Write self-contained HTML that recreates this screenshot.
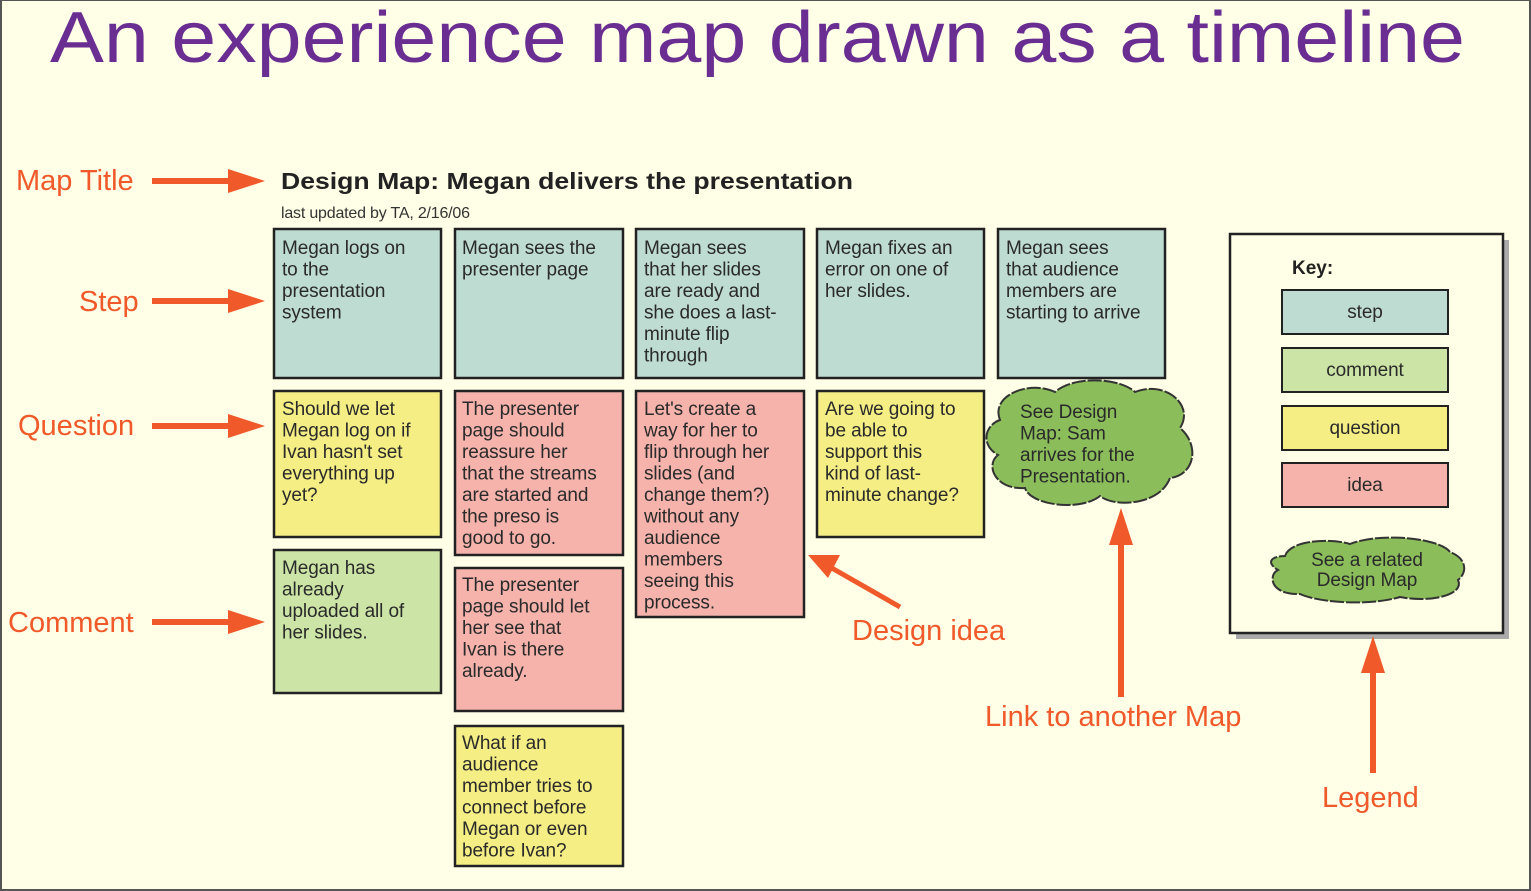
<!DOCTYPE html>
<html><head><style>
html,body{margin:0;padding:0;background:#fffee6}
svg{display:block}
text{font-family:"Liberation Sans",sans-serif}
.b{font-size:19px;fill:#2a2a2a;letter-spacing:-0.1px}
.o{fill:#f0592a;font-size:29px}
</style></head><body>
<svg width="1531" height="891" viewBox="0 0 1531 891">
<rect x="0" y="0" width="1531" height="891" fill="#fffee6"/>
<rect x="1" y="0" width="1529" height="890" fill="none" stroke="#555" stroke-width="2"/>
<text x="50" y="62" font-size="72" fill="#6a2d91" textLength="1415" lengthAdjust="spacingAndGlyphs">An experience map drawn as a timeline</text>

<g fill="#f0592a">
<g id="la"><rect x="152" y="178" width="80" height="6"/><polygon points="228,169 265,181 228,193"/></g>
<use href="#la" y="120"/>
<use href="#la" y="245"/>
<use href="#la" y="441"/>
</g>
<text class="o" x="16" y="190">Map Title</text>
<text class="o" x="79" y="311">Step</text>
<text class="o" x="18" y="435">Question</text>
<text class="o" x="8" y="632">Comment</text>

<text x="281" y="189" font-size="23" font-weight="bold" fill="#222" textLength="572" lengthAdjust="spacingAndGlyphs">Design Map: Megan delivers the presentation</text>
<text x="281" y="218" font-size="16" fill="#333" letter-spacing="-0.2">last updated by TA, 2/16/06</text>

<g stroke="#222" stroke-width="2.5">
<rect x="274" y="229" width="167" height="149" fill="#bfdcd2"/>
<rect x="455" y="229" width="168" height="149" fill="#bfdcd2"/>
<rect x="636" y="229" width="168" height="149" fill="#bfdcd2"/>
<rect x="817" y="229" width="167" height="149" fill="#bfdcd2"/>
<rect x="998" y="229" width="167" height="149" fill="#bfdcd2"/>
<rect x="274" y="391" width="167" height="146" fill="#f4ee84"/>
<rect x="455" y="391" width="168" height="164" fill="#f5b3ac"/>
<rect x="636" y="391" width="168" height="226" fill="#f5b3ac"/>
<rect x="817" y="391" width="167" height="146" fill="#f4ee84"/>
<rect x="274" y="550" width="167" height="143" fill="#cce5a6"/>
<rect x="455" y="568" width="168" height="143" fill="#f5b3ac"/>
<rect x="455" y="726" width="168" height="140" fill="#f4ee84"/>
</g>

<g class="b">
<text class="b" x="282" y="254">Megan logs on<tspan x="282" dy="21.5">to the</tspan><tspan x="282" dy="21.5">presentation</tspan><tspan x="282" dy="21.5">system</tspan></text>
<text class="b" x="462" y="254">Megan sees the<tspan x="462" dy="21.5">presenter page</tspan></text>
<text class="b" x="644" y="254">Megan sees<tspan x="644" dy="21.5">that her slides</tspan><tspan x="644" dy="21.5">are ready and</tspan><tspan x="644" dy="21.5">she does a last-</tspan><tspan x="644" dy="21.5">minute flip</tspan><tspan x="644" dy="21.5">through</tspan></text>
<text class="b" x="825" y="254">Megan fixes an<tspan x="825" dy="21.5">error on one of</tspan><tspan x="825" dy="21.5">her slides.</tspan></text>
<text class="b" x="1006" y="254">Megan sees<tspan x="1006" dy="21.5">that audience</tspan><tspan x="1006" dy="21.5">members are</tspan><tspan x="1006" dy="21.5">starting to arrive</tspan></text>

<text class="b" x="282" y="415">Should we let<tspan x="282" dy="21.5">Megan log on if</tspan><tspan x="282" dy="21.5">Ivan hasn't set</tspan><tspan x="282" dy="21.5">everything up</tspan><tspan x="282" dy="21.5">yet?</tspan></text>
<text class="b" x="462" y="415">The presenter<tspan x="462" dy="21.5">page should</tspan><tspan x="462" dy="21.5">reassure her</tspan><tspan x="462" dy="21.5">that the streams</tspan><tspan x="462" dy="21.5">are started and</tspan><tspan x="462" dy="21.5">the preso is</tspan><tspan x="462" dy="21.5">good to go.</tspan></text>
<text class="b" x="644" y="415">Let's create a<tspan x="644" dy="21.5">way for her to</tspan><tspan x="644" dy="21.5">flip through her</tspan><tspan x="644" dy="21.5">slides (and</tspan><tspan x="644" dy="21.5">change them?)</tspan><tspan x="644" dy="21.5">without any</tspan><tspan x="644" dy="21.5">audience</tspan><tspan x="644" dy="21.5">members</tspan><tspan x="644" dy="21.5">seeing this</tspan><tspan x="644" dy="21.5">process.</tspan></text>
<text class="b" x="825" y="415">Are we going to<tspan x="825" dy="21.5">be able to</tspan><tspan x="825" dy="21.5">support this</tspan><tspan x="825" dy="21.5">kind of last-</tspan><tspan x="825" dy="21.5">minute change?</tspan></text>
<text class="b" x="282" y="574">Megan has<tspan x="282" dy="21.5">already</tspan><tspan x="282" dy="21.5">uploaded all of</tspan><tspan x="282" dy="21.5">her slides.</tspan></text>
<text class="b" x="462" y="591">The presenter<tspan x="462" dy="21.5">page should let</tspan><tspan x="462" dy="21.5">her see that</tspan><tspan x="462" dy="21.5">Ivan is there</tspan><tspan x="462" dy="21.5">already.</tspan></text>
<text class="b" x="462" y="749">What if an<tspan x="462" dy="21.5">audience</tspan><tspan x="462" dy="21.5">member tries to</tspan><tspan x="462" dy="21.5">connect before</tspan><tspan x="462" dy="21.5">Megan or even</tspan><tspan x="462" dy="21.5">before Ivan?</tspan></text>
</g>

<path d="M1000,420 C990,395 1030,380 1055,392 C1075,375 1120,378 1135,392 C1165,380 1195,405 1180,428 C1200,445 1195,475 1170,478 C1160,505 1115,508 1100,496 C1080,512 1030,505 1025,488 C995,490 985,465 998,455 C980,445 985,425 1000,420 Z" fill="#8bbd5b" stroke="#333" stroke-width="2" stroke-dasharray="14,2"/>
<text class="b" x="1020" y="418">See Design<tspan x="1020" dy="21.5">Map: Sam</tspan><tspan x="1020" dy="21.5">arrives for the</tspan><tspan x="1020" dy="21.5">Presentation.</tspan></text>

<rect x="1236" y="240" width="273" height="399" fill="#aaa"/>
<rect x="1230" y="234" width="273" height="399" fill="#fffee6" stroke="#222" stroke-width="2.5"/>
<text x="1292" y="274" font-size="19" font-weight="bold" fill="#222">Key:</text>
<g stroke="#222" stroke-width="2">
<rect x="1282" y="290" width="166" height="44" fill="#bfdcd2"/>
<rect x="1282" y="348" width="166" height="44" fill="#cce5a6"/>
<rect x="1282" y="406" width="166" height="44" fill="#f4ee84"/>
<rect x="1282" y="463" width="166" height="44" fill="#f5b3ac"/>
</g>
<g class="b" text-anchor="middle">
<text class="b" x="1365" y="318">step</text>
<text class="b" x="1365" y="376">comment</text>
<text class="b" x="1365" y="434">question</text>
<text class="b" x="1365" y="491">idea</text>
</g>
<path d="M1285,556 C1290,540 1330,538 1350,544 C1380,532 1440,538 1450,552 C1470,560 1465,575 1458,580 C1465,595 1430,603 1400,597 C1370,606 1320,603 1300,594 C1270,595 1268,575 1278,570 C1265,562 1272,556 1285,556 Z" fill="#8bbd5b" stroke="#333" stroke-width="2" stroke-dasharray="14,2"/>
<text class="b" x="1367" y="566" text-anchor="middle">See a related<tspan x="1367" dy="20">Design Map</tspan></text>

<g fill="#f0592a" stroke="#f0592a">
<line x1="900" y1="607" x2="830" y2="567" stroke-width="5"/>
<polygon points="808,555 840,555 828,578" stroke="none"/>
<rect x="1118" y="540" width="6" height="157" stroke="none"/>
<polygon points="1121,508 1109,545 1133,545" stroke="none"/>
<rect x="1370" y="670" width="6" height="103" stroke="none"/>
<polygon points="1373,636 1361,673 1385,673" stroke="none"/>
</g>
<text class="o" x="852" y="640">Design idea</text>
<text class="o" x="985" y="726">Link to another Map</text>
<text class="o" x="1322" y="807">Legend</text>
</svg>
</body></html>
